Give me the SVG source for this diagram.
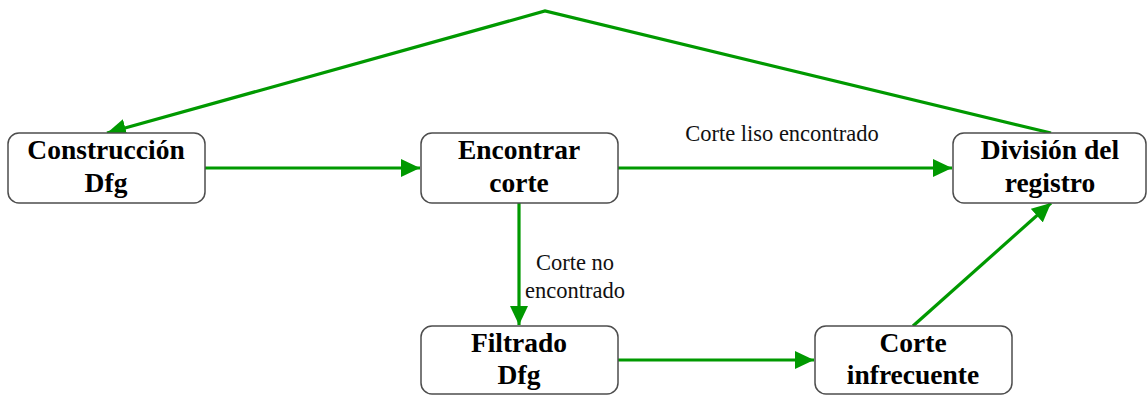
<svg xmlns="http://www.w3.org/2000/svg" width="1148" height="396" viewBox="0 0 1148 396">
<style>
.box{fill:#fff;stroke:#4d4d4d;stroke-width:1.5}
.t{font-family:"Liberation Serif","Times New Roman",serif;font-weight:bold;font-size:27.5px;fill:#000;text-anchor:middle}
.lbl{font-family:"Liberation Serif","Times New Roman",serif;font-size:22.5px;fill:#111;text-anchor:middle}
.e{fill:none;stroke:#009900;stroke-width:3.2}
</style>
<defs>
<marker id="ah" markerUnits="userSpaceOnUse" markerWidth="20" markerHeight="18" refX="19" refY="9" orient="auto">
<path d="M0,0 L19,9 L0,18 Z" fill="#009900"/>
</marker>
</defs>
<rect width="1148" height="396" fill="#fff"/>
<g id="connectors">
<line class="e" x1="205" y1="168" x2="420" y2="168" marker-end="url(#ah)"/>
<line class="e" x1="618" y1="168" x2="952" y2="168" marker-end="url(#ah)"/>
<line class="e" x1="519" y1="203" x2="519" y2="325" marker-end="url(#ah)"/>
<line class="e" x1="618" y1="360" x2="814" y2="360" marker-end="url(#ah)"/>
<line class="e" x1="913" y1="326" x2="1051" y2="203" marker-end="url(#ah)"/>
<polyline class="e" points="1051,133 545,11 107,133" marker-end="url(#ah)"/>
<text class="lbl" x="782" y="141">Corte liso encontrado</text>
<text class="lbl" x="575" y="270">Corte no</text>
<text class="lbl" x="575" y="298">encontrado</text>
</g>
<g id="n1">
<rect class="box" x="8" y="133" width="197" height="70" rx="11"/>
<text class="t" x="106" y="159">Construcción</text>
<text class="t" x="106" y="192">Dfg</text>
</g>
<g id="n2">
<rect class="box" x="421" y="133" width="197" height="70" rx="11"/>
<text class="t" x="519" y="159">Encontrar</text>
<text class="t" x="519" y="192">corte</text>
</g>
<g id="n3">
<rect class="box" x="953" y="133" width="193" height="70" rx="11"/>
<text class="t" x="1050" y="159">División del</text>
<text class="t" x="1050" y="192">registro</text>
</g>
<g id="n4">
<rect class="box" x="421" y="326" width="197" height="68" rx="11"/>
<text class="t" x="519" y="352">Filtrado</text>
<text class="t" x="519" y="384">Dfg</text>
</g>
<g id="n5">
<rect class="box" x="815" y="326" width="197" height="68" rx="11"/>
<text class="t" x="913" y="352">Corte</text>
<text class="t" x="913" y="384">infrecuente</text>
</g>
</svg>
